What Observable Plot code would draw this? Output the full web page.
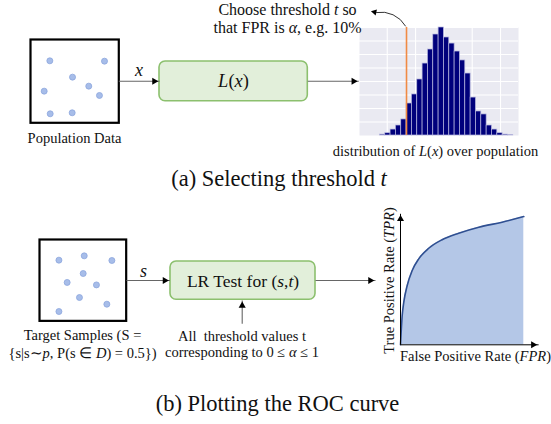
<!DOCTYPE html>
<html>
<head>
<meta charset="utf-8">
<script src="https://cdn.jsdelivr.net/npm/d3@7"></script>
<script src="https://cdn.jsdelivr.net/npm/@observablehq/plot@0.6"></script>
<style>
  body { margin: 0; background: #fff; }
  #wrap { position: relative; width: 551px; height: 424px; overflow: hidden; background: #fff; }
  #wrap svg { position: absolute; background: transparent; overflow: visible; max-width: none; }
  #wrap svg text { font-family: "Liberation Serif", "Times New Roman", serif; }
</style>
</head>
<body>
<div id="wrap"></div>
<script>
// ---------- data ----------
// population samples (normalized position inside the box, y from top)
const popX = [0.219, 0.838, 0.476, 0.155, 0.660, 0.781, 0.223, 0.472];
const popY = [0.256, 0.260, 0.452, 0.620, 0.560, 0.672, 0.892, 0.880];
// target samples
const tgtX = [0.224, 0.516, 0.835, 0.504, 0.319, 0.657, 0.461, 0.777, 0.224];
const tgtY = [0.254, 0.201, 0.258, 0.418, 0.528, 0.558, 0.713, 0.795, 0.885];
// histogram of L(x) over population
const histCounts = [7, 17, 44, 74, 119, 237, 304, 415, 533, 637, 748, 800, 726, 681, 622, 556, 459, 281, 178, 156, 74, 44, 17, 7, 2];
const histStart = -4.52;
const histBinWidth = 0.377;
const threshold = -2.64;
const histXTicks = [-4, -2, 0, 2, 4];
const histYTicks = [100, 200, 300, 400, 500, 600, 700, 800];
// ROC curve
const rocFPR = [0, 0.0138, 0.0268, 0.0543, 0.0949, 0.148, 0.229, 0.337, 0.472, 0.635, 0.824, 1.0];
const rocTPR = [0, 0.224, 0.326, 0.453, 0.567, 0.656, 0.737, 0.802, 0.852, 0.898, 0.936, 0.979];
// texts
const captionA = "(a) Selecting threshold *t*";
const captionB = "(b) Plotting the ROC curve";
const popLabel = "Population Data";
const tgtLabel = "Target Samples (S =\n{s|s∼*p*, P(s ∈ *D*) = 0.5})";
const scoreLabel = "*L*(*x*)";
const lrLabel = "LR Test for (*s*,*t*)";
const annotLabel = "Choose threshold *t* so\nthat FPR is *α*, e.g. 10%";
const distLabel = "distribution of *L*(*x*) over population";
const alphaLabel = "All\u00a0 threshold values t\ncorresponding to 0 ≤ *α* ≤ 1";
const tprLabel = "True Positive Rate (*TPR*)";
const fprLabel = "False Positive Rate (*FPR*)";

// ---------- helpers ----------
const FONT = "Liberation Serif";
const wrap = document.getElementById("wrap");
function place(svg, left, top) {
  svg.style.left = left + "px";
  svg.style.top = top + "px";
  wrap.appendChild(svg);
  return svg;
}
function italicize(svg) {
  svg.querySelectorAll("text, tspan").forEach(el => {
    if (el.children.length) return;
    const s = el.textContent;
    if (!s.includes("*")) return;
    el.textContent = "";
    s.split("*").forEach((part, i) => {
      if (!part) return;
      const t = document.createElementNS("http://www.w3.org/2000/svg", "tspan");
      if (i % 2 === 1) t.setAttribute("font-style", "italic");
      t.textContent = part;
      el.appendChild(t);
    });
  });
}
const dotFill = "#a7bde9", dotStroke = "#8ca6dd";

// ---------- sample boxes ----------
function sampleBox(xs, ys, w, h) {
  return Plot.plot({
    width: w + 2, height: h + 2, margin: 1,
    x: {domain: [0, 1], axis: null},
    y: {domain: [0, 1], reverse: true, axis: null},
    marks: [
      Plot.frame({stroke: "#000", strokeWidth: 2.2}),
      Plot.dot(xs.map((x, i) => ({x, y: ys[i]})), {x: "x", y: "y", r: 3, fill: dotFill, stroke: dotStroke, strokeWidth: 0.8})
    ]
  });
}
place(sampleBox(popX, popY, 88.3, 83.3), 29, 38);
place(sampleBox(tgtX, tgtY, 86.7, 81.4), 38.3, 238.3);

// ---------- histogram ----------
const bins = histCounts.map((c, i) => ({x1: histStart + i * histBinWidth, x2: histStart + (i + 1) * histBinWidth, y: c}));
const hist = Plot.plot({
  width: 159, height: 108, margin: 0,
  x: {domain: [-5.96, 5.27], axis: null},
  y: {domain: [0, 800], axis: null},
  marks: [
    Plot.frame({fill: "#eaeaf2", stroke: "none"}),
    Plot.ruleX(histXTicks, {stroke: "#fff", strokeWidth: 1.1}),
    Plot.ruleY(histYTicks, {stroke: "#fff", strokeWidth: 1.1}),
    Plot.rectY(bins, {x1: "x1", x2: "x2", y: "y", fill: "#00007c", stroke: "#b9b9e0", strokeWidth: 0.7}),
    Plot.ruleX([threshold], {stroke: "#f08a44", strokeWidth: 1.6})
  ]
});
place(hist, 359, 27);

// ---------- ROC ----------
const roc = rocFPR.map((x, i) => ({x, y: rocTPR[i]}));
const rocPlot = Plot.plot({
  width: 150, height: 150,
  marginLeft: 5, marginRight: 21.7, marginTop: 8.3, marginBottom: 10.7,
  x: {domain: [0, 1], axis: null},
  y: {domain: [0, 1], axis: null},
  marks: [
    Plot.areaY(roc, {x: "x", y: "y", fill: "#b4c7e7", curve: "monotone-x"}),
    Plot.line(roc, {x: "x", y: "y", stroke: "#2f4f91", strokeWidth: 1.6, curve: "monotone-x"}),
    Plot.link([{x1: 0, y1: 0, x2: 1.12, y2: 0}, {x1: 0, y1: 0, x2: 0, y2: 1.0}], {x1: "x1", y1: "y1", x2: "x2", y2: "y2", stroke: "#000", strokeWidth: 1}),
    Plot.dot([{x: 1.076, y: 0, r: 90}, {x: 0, y: 0.96, r: 0}], {x: "x", y: "y", rotate: "r", symbol: "triangle2", r: 3.4, fill: "#000"})
  ]
});
place(rocPlot, 395, 205);

// ---------- diagram overlay ----------
const arrows = [
  {x1: 118.3, y1: 80.7, x2: 159, y2: 80.7},
  {x1: 307.3, y1: 80.7, x2: 358.3, y2: 80.7},
  {x1: 126, y1: 280, x2: 169.5, y2: 280},
  {x1: 315, y1: 280, x2: 375, y2: 280},
  {x1: 241.7, y1: 323.3, x2: 241.7, y2: 300}
];
const heads = arrows.map(a => {
  const dx = a.x2 - a.x1, dy = a.y2 - a.y1, L = Math.hypot(dx, dy);
  return {x: a.x2 - dx / L * 5.2, y: a.y2 - dy / L * 5.2, r: Math.atan2(dx, -dy) * 180 / Math.PI};
});
const boxes = [
  {x1: 159, y1: 61, x2: 307.3, y2: 100.7},
  {x1: 170, y1: 261, x2: 315, y2: 299.3}
];
const T = (txt, x, y, size, extra = {}) => Plot.text([txt], {x: () => x, y: () => y, text: d => d, fontSize: size, fontFamily: FONT, fill: "#111", lineAnchor: "middle", ...extra});
const overlay = Plot.plot({
  width: 551, height: 424, margin: 0,
  style: {background: "transparent"},
  x: {domain: [0, 551], range: [0, 551], axis: null},
  y: {domain: [0, 424], range: [0, 424], axis: null},
  marks: [
    Plot.rect(boxes, {x1: "x1", y1: "y1", x2: "x2", y2: "y2", fill: "#e2efda", stroke: "#8cc06e", strokeWidth: 1.6, rx: 6}),
    Plot.link(arrows, {x1: "x1", y1: "y1", x2: "x2", y2: "y2", stroke: "#666", strokeWidth: 1.1}),
    Plot.dot(heads, {x: "x", y: "y", rotate: "r", symbol: "triangle2", r: 3.4, fill: "#000"}),
    Plot.arrow([{x1: 405, y1: 25.5, x2: 376, y2: 12}], {x1: "x1", y1: "y1", x2: "x2", y2: "y2", bend: -35, stroke: "#333", strokeWidth: 1, headLength: 0}),
    Plot.dot([{x: 374, y: 11.6, r: -78}], {x: "x", y: "y", rotate: "r", symbol: "triangle2", r: 3, fill: "#000"}),
    T("*x*", 138.5, 70, 18),
    T("*s*", 143, 270.5, 18),
    T(scoreLabel, 233, 81, 18.5),
    T(lrLabel, 242.5, 281, 17.5),
    T(annotLabel, 287, 18, 16, {lineHeight: 1.09}),
    T(popLabel, 74, 137.5, 14.5),
    T(distLabel, 435, 150.5, 14.5),
    T(tgtLabel, 82, 343, 14.5, {lineHeight: 1.22}),
    T(alphaLabel, 241.5, 343.3, 14.5, {lineHeight: 1.15}),
    T(tprLabel, 389, 280, 14.5, {rotate: -90}),
    T(fprLabel, 475, 355.5, 14.5),
    T(captionA, 278.5, 178, 22.5),
    T(captionB, 277, 403.5, 22.5)
  ]
});
italicize(overlay);
place(overlay, 0, 0);
</script>
</body>
</html>
